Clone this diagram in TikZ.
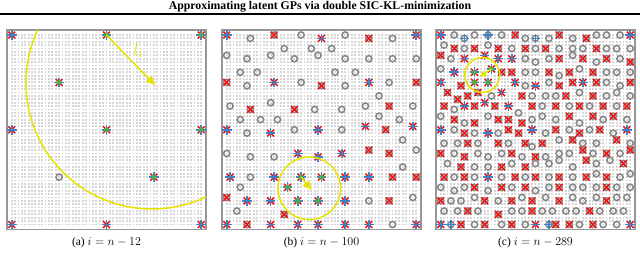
\documentclass[tikz,border=0pt]{standalone}
\usepackage{fontspec}
\setmainfont{Liberation Serif}
\usetikzlibrary{arrows.meta}
\definecolor{ringc}{RGB}{135,135,135}
\definecolor{redx}{RGB}{240,20,20}
\definecolor{bluep}{RGB}{60,130,200}
\definecolor{greend}{RGB}{80,170,80}
\definecolor{yel}{RGB}{228,228,0}
\definecolor{dotc}{RGB}{214,214,214}
\definecolor{framec}{RGB}{150,150,150}
\tikzset{
 mring/.style={draw=ringc, line width=1.6pt},
 mx/.style={draw=redx, line width=1.6pt},
 mplus/.style={draw=bluep, line width=1.6pt},
 mgreen/.style={fill=greend},
 yline/.style={draw=yel, line width=1.5pt},
 yarrow/.style={draw=yel, line width=1.5pt, -{Triangle[length=9pt,width=8pt]}},
 panelgrid/.style={x=3.384pt, y=-3.384pt},
 captext/.style={font=\fontsize{11.5}{13}\selectfont},
}
\newcommand\mkR[2]{\draw[mring] (#1,#2) circle[radius=3.1pt];}
\newcommand\mkXo[2]{\draw[mx] (#1,#2) +(-3.4pt,-3.4pt) -- +(3.4pt,3.4pt) +(-3.4pt,3.4pt) -- +(3.4pt,-3.4pt);}
\newcommand\mkPo[2]{\draw[mplus] (#1,#2) +(-4.8pt,0) -- +(4.8pt,0) +(0,-4.8pt) -- +(0,4.8pt);}
\newcommand\mkX[2]{\mkR{#1}{#2}\mkXo{#1}{#2}}
\newcommand\mkB[2]{\mkR{#1}{#2}\mkPo{#1}{#2}}
\newcommand\mkS[2]{\mkXo{#1}{#2}\mkPo{#1}{#2}}
\newcommand\mkG[2]{\mkS{#1}{#2}\fill[mgreen] (#1,#2) circle[radius=2.6pt];}
% marker given in zoom coordinates of panel c, snapped to the grid
\newcommand\cc[3]{%
  \pgfmathtruncatemacro\gx{max(0,min(56,round((#2-47)/10.14)))}%
  \pgfmathtruncatemacro\gy{max(0,min(56,round((#3-30)/10.14)))}%
  \csname mk#1\endcsname{\gx}{\gy}}
\newcommand\paneldots{%
  \draw[framec, line width=1.2pt] ([shift={(-4.8pt,5pt)}]0,0) rectangle ([shift={(4.8pt,-4.8pt)}]56,56);
  \foreach \j in {0,...,56}{\draw[dotc, line width=1.8pt, dash pattern=on 1.8pt off 1.584pt] ([xshift=-0.9pt]0,\j) -- ([xshift=0.9pt]56,\j);}
}
\newcommand\panelclip{\clip ([shift={(-4.8pt,5pt)}]0,0) rectangle ([shift={(4.8pt,-4.8pt)}]56,56);}
\begin{document}
\begin{tikzpicture}[x=1pt,y=-1pt]
\useasboundingbox (0,0) rectangle (640,255);
\node[font=\bfseries\fontsize{11.8}{13}\selectfont] (title) at (320,6.3) {Approximating latent GPs via double SIC-KL-minimization};
\draw[line width=1.2pt] (0,14) coordinate (rl) -- (640,14) coordinate (rr);
% ---------- panel a
\begin{scope}[shift={(11.7,35)}, panelgrid]
\paneldots
\mkS{0}{0} \mkG{28}{0} \mkG{56}{0}
\mkS{0}{28} \mkG{28}{28} \mkG{56}{28}
\mkS{0}{56} \mkS{28}{56} \mkS{56}{56}
\mkG{14}{14} \mkG{42}{42} \mkR{14}{42}
\begin{scope}\panelclip
\draw[yline] (41.46,14.18) circle[radius=126pt];
\end{scope}
\coordinate (a0) at (28,0); \coordinate (a1) at (42.35,14.8);
\draw[yarrow] (a0) -- (a1);
\node[text=yel, font=\fontsize{17}{17}\selectfont] (li) at (37.4,4.6) {$l_i$};
\end{scope}
% ---------- panel b
\begin{scope}[shift={(226.7,35)}, panelgrid]
\paneldots
\mkS{0}{0} \mkR{7}{1} \mkX{14}{0} \mkR{22}{0} \mkS{28}{1} \mkR{35}{0} \mkX{42}{1} \mkR{49}{1} \mkS{56}{0}
\mkR{17}{4} \mkR{25}{4} \mkR{31}{4}
\mkR{0}{6} \mkR{6}{7} \mkR{13}{6} \mkR{20}{7} \mkR{27}{6} \mkR{35}{7} \mkR{42}{7} \mkR{49}{7} \mkR{56}{7}
\mkR{4}{11} \mkR{9}{11} \mkR{32}{11} \mkR{38}{11}
\mkX{0}{14} \mkR{6}{15} \mkS{14}{14} \mkR{22}{14} \mkX{28}{15} \mkR{35}{15} \mkS{42}{14} \mkR{48}{14} \mkX{56}{14}
\mkR{45}{18}
\mkR{1}{21} \mkX{7}{22} \mkR{13}{20} \mkX{20}{22} \mkR{26}{22} \mkR{34}{22} \mkR{41}{21} \mkX{48}{21} \mkR{55}{21}
\mkR{4}{25} \mkR{10}{25} \mkR{15}{25} \mkR{45}{24} \mkR{51}{25}
\mkS{0}{28} \mkR{6}{29} \mkS{13}{29} \mkR{20}{28} \mkS{27}{28} \mkR{34}{28} \mkS{41}{27} \mkX{47}{28} \mkS{55}{27}
\mkR{52}{31}
\mkR{0}{35} \mkR{7}{36} \mkR{14}{36} \mkS{21}{35} \mkS{27}{36} \mkS{34}{35} \mkX{42}{34} \mkX{48}{35} \mkR{56}{34}
\mkR{52}{39}
\mkS{1}{42} \mkR{7}{42} \mkS{14}{42} \mkG{22}{42} \mkG{28}{42} \mkS{35}{42} \mkS{42}{42} \mkX{49}{42} \mkX{56}{42}
\mkR{4}{45} \mkG{18}{45}
\mkX{0}{48} \mkS{6}{49} \mkS{13}{49} \mkG{21}{49} \mkG{27}{49} \mkS{35}{49} \mkR{42}{49} \mkX{48}{49} \mkR{55}{48}
\mkR{3}{52} \mkX{17}{53}
\mkS{0}{56} \mkX{6}{56} \mkS{13}{56} \mkS{21}{56} \mkS{27}{56} \mkS{35}{56} \mkS{42}{56} \mkR{49}{56} \mkS{56}{56}
\begin{scope}\panelclip
\draw[yline] (24.4,45.3) circle[radius=31.3pt];
\end{scope}
\coordinate (b0) at (22,42); \coordinate (b1) at (25.1,45.8);
\draw[yarrow] (b0) -- (b1);
\end{scope}
% ---------- panel c
\begin{scope}[shift={(440.7,35)}, panelgrid]
\paneldots
% row 1
\cc{S}{45}{25} \cc{R}{85}{30} \cc{B}{122}{38} \cc{R}{153}{28} \cc{B}{190}{28} \cc{R}{230}{28} \cc{X}{268}{28} \cc{R}{305}{38} \cc{B}{335}{38} \cc{R}{375}{38} \cc{X}{403}{28} \cc{R}{440}{38} \cc{X}{480}{38} \cc{R}{513}{28} \cc{R}{548}{28} \cc{R}{580}{28} \cc{S}{615}{28}
% row 2
\cc{R}{55}{60} \cc{X}{85}{67} \cc{R}{123}{75} \cc{X}{153}{67} \cc{R}{188}{60} \cc{X}{220}{67} \cc{R}{260}{67} \cc{X}{297}{67} \cc{R}{330}{75} \cc{X}{365}{75} \cc{R}{405}{67} \cc{R}{440}{75} \cc{R}{475}{67} \cc{X}{510}{75} \cc{R}{545}{70} \cc{R}{578}{67} \cc{R}{615}{75}
% row 3
\cc{X}{45}{95} \cc{R}{75}{105} \cc{S}{115}{100} \cc{S}{180}{95} \cc{S}{222}{100} \cc{S}{258}{100} \cc{R}{297}{105} \cc{R}{335}{110} \cc{R}{370}{105} \cc{X}{403}{105} \cc{R}{440}{95} \cc{X}{475}{105} \cc{R}{510}{110} \cc{X}{548}{105} \cc{R}{580}{105} \cc{X}{612}{110}
% row 4
\cc{R}{45}{130} \cc{S}{85}{140} \cc{G}{145}{142} \cc{G}{195}{130} \cc{X}{230}{140} \cc{X}{265}{140} \cc{R}{300}{145} \cc{R}{335}{145} \cc{X}{373}{145} \cc{R}{405}{150} \cc{X}{433}{140} \cc{R}{465}{135} \cc{X}{500}{140} \cc{R}{540}{140} \cc{R}{578}{140} \cc{R}{612}{145}
% row 5
\cc{S}{45}{170} \cc{X}{108}{180} \cc{G}{145}{172} \cc{G}{185}{172} \cc{S}{268}{172} \cc{R}{300}{180} \cc{S}{335}{180} \cc{R}{370}{172} \cc{X}{403}{180} \cc{X}{440}{172} \cc{S}{470}{172} \cc{X}{510}{172} \cc{R}{548}{172} \cc{R}{580}{180} \cc{X}{615}{172}
% row 6
\cc{X}{65}{205} \cc{X}{95}{218} \cc{X}{125}{208} \cc{X}{160}{205} \cc{R}{195}{210} \cc{S}{230}{205} \cc{X}{290}{210} \cc{R}{325}{215} \cc{R}{360}{210} \cc{R}{390}{212} \cc{X}{420}{210} \cc{R}{460}{200} \cc{X}{500}{210} \cc{R}{540}{210} \cc{R}{575}{205} \cc{R}{612}{210}
% row 7
\cc{X}{55}{240} \cc{R}{85}{250} \cc{S}{122}{245} \cc{X}{153}{240} \cc{S}{180}{235} \cc{X}{210}{245} \cc{S}{248}{245} \cc{R}{280}{260} \cc{X}{318}{245} \cc{R}{355}{245} \cc{X}{393}{248} \cc{R}{430}{245} \cc{X}{460}{240} \cc{R}{495}{240} \cc{X}{537}{240} \cc{R}{572}{248} \cc{X}{605}{240}
% row 8
\cc{R}{45}{278} \cc{X}{85}{285} \cc{R}{122}{290} \cc{X}{153}{290} \cc{R}{188}{275} \cc{X}{220}{285} \cc{X}{250}{280} \cc{X}{288}{290} \cc{R}{318}{280} \cc{R}{355}{275} \cc{R}{388}{285} \cc{X}{430}{278} \cc{R}{465}{290} \cc{X}{500}{270} \cc{R}{535}{285} \cc{X}{568}{278} \cc{R}{605}{285}
% row 9
\cc{S}{45}{318} \cc{R}{85}{318} \cc{X}{115}{325} \cc{R}{153}{325} \cc{S}{185}{325} \cc{R}{218}{320} \cc{X}{248}{318} \cc{X}{285}{325} \cc{S}{325}{318} \cc{R}{360}{320} \cc{X}{393}{318} \cc{R}{430}{310} \cc{X}{460}{320} \cc{R}{495}{315} \cc{X}{527}{318} \cc{R}{560}{320} \cc{S}{605}{318}
% row 10
\cc{R}{55}{350} \cc{R}{95}{350} \cc{X}{130}{355} \cc{R}{160}{355} \cc{X}{220}{355} \cc{R}{250}{350} \cc{X}{297}{355} \cc{R}{325}{360} \cc{X}{355}{355} \cc{R}{400}{345} \cc{X}{440}{345} \cc{R}{470}{355} \cc{R}{510}{350} \cc{X}{577}{345} \cc{R}{610}{350}
% row 11
\cc{X}{45}{383} \cc{R}{85}{383} \cc{X}{123}{393} \cc{R}{155}{386} \cc{R}{190}{393} \cc{R}{225}{385} \cc{X}{260}{385} \cc{R}{295}{390} \cc{X}{330}{393} \cc{R}{365}{390} \cc{R}{400}{380} \cc{R}{435}{380} \cc{X}{470}{375} \cc{R}{500}{383} \cc{X}{545}{383} \cc{R}{580}{380} \cc{X}{615}{375}
% row 12
\cc{R}{65}{415} \cc{X}{105}{425} \cc{R}{150}{425} \cc{R}{185}{425} \cc{X}{230}{423} \cc{R}{265}{420} \cc{X}{300}{425} \cc{R}{335}{420} \cc{R}{375}{415} \cc{R}{405}{410} \cc{R}{440}{425} \cc{X}{480}{410} \cc{R}{515}{420} \cc{R}{555}{410} \cc{X}{590}{420}
% row 13
\cc{X}{55}{452} \cc{R}{85}{460} \cc{X}{123}{460} \cc{R}{153}{452} \cc{S}{190}{460} \cc{R}{225}{455} \cc{X}{268}{452} \cc{R}{300}{460} \cc{X}{335}{460} \cc{R}{375}{455} \cc{X}{403}{452} \cc{R}{440}{460} \cc{X}{480}{455} \cc{R}{513}{450} \cc{X}{548}{460} \cc{R}{580}{460} \cc{R}{615}{445}
% row 14
\cc{R}{45}{490} \cc{R}{85}{495} \cc{R}{115}{490} \cc{X}{150}{487} \cc{R}{190}{495} \cc{X}{230}{490} \cc{R}{260}{485} \cc{X}{297}{490} \cc{R}{335}{495} \cc{R}{370}{485} \cc{X}{405}{485} \cc{R}{440}{490} \cc{R}{475}{485} \cc{R}{510}{490} \cc{X}{545}{485} \cc{R}{578}{485} \cc{R}{612}{485}
% row 15
\cc{X}{45}{525} \cc{R}{78}{530} \cc{R}{110}{528} \cc{R}{150}{520} \cc{X}{180}{528} \cc{R}{215}{528} \cc{X}{258}{528} \cc{R}{290}{520} \cc{X}{325}{528} \cc{R}{365}{520} \cc{X}{403}{528} \cc{R}{440}{520} \cc{R}{475}{528} \cc{R}{510}{520} \cc{X}{540}{528} \cc{R}{575}{520} \cc{R}{608}{520}
% row 16
\cc{R}{62}{560} \cc{R}{95}{560} \cc{X}{125}{562} \cc{R}{160}{560} \cc{X}{220}{567} \cc{R}{255}{560} \cc{R}{290}{555} \cc{X}{320}{560} \cc{R}{350}{560} \cc{R}{385}{555} \cc{R}{420}{560} \cc{R}{455}{555} \cc{X}{490}{560} \cc{R}{525}{555} \cc{R}{560}{560} \cc{R}{595}{555}
% row 17 (bottom)
\mkS{0}{56} \mkB{3}{56} \mkX{6}{56} \mkR{10}{56} \mkX{13}{56} \mkR{18}{56} \mkX{21}{56} \mkR{25}{56} \mkS{28}{56} \mkB{32}{56} \mkX{34}{56} \mkX{38}{56} \mkR{41}{56} \mkX{45}{56} \mkR{48}{56} \mkR{52}{56} \mkS{56}{56}
\begin{scope}\panelclip
\draw[yline] (12.3,11.8) circle[radius=17.5pt];
\end{scope}
\coordinate (c0) at (15,10); \coordinate (c1) at (11.6,12.3);
\draw[yarrow, -{Triangle[length=6pt,width=6pt]}] (c0) -- (c1);
\end{scope}
% ---------- captions
\node[captext] (capa) at (106.5,243) {(a) $i = n - 12$};
\node[captext] (capb) at (321.5,243) {(b) $i = n - 100$};
\node[captext] (capc) at (535.5,243) {(c) $i = n - 289$};
\end{tikzpicture}
\end{document}
